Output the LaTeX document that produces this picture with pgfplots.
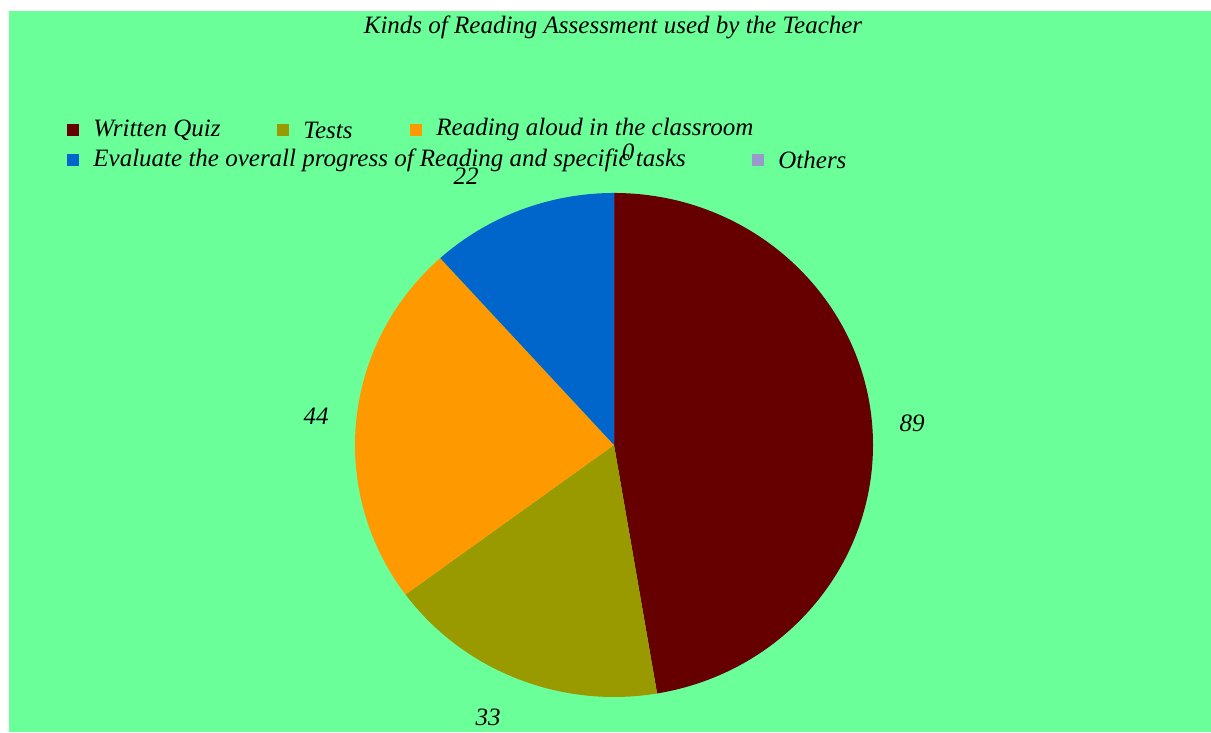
\documentclass[border=0pt]{standalone}
\usepackage{pgfplots}
\pgfplotsset{compat=1.18}
\usepackage{fontspec}
\setmainfont{Liberation Serif}
\definecolor{bg}{HTML}{6BFF9A}
\definecolor{cA}{HTML}{660000}
\definecolor{cB}{HTML}{999900}
\definecolor{cC}{HTML}{FF9900}
\definecolor{cD}{HTML}{0066CC}
\definecolor{cE}{HTML}{9999CC}
\newcommand\lf{\fontsize{12.5}{15}\selectfont\itshape}
\begin{document}
\begin{tikzpicture}
\begin{axis}[scale only axis, width=605.5pt, height=366pt,
  xmin=0, xmax=1211, ymin=0, ymax=732, hide axis, clip=false]
\fill[white] (axis cs:0,0) rectangle (axis cs:1211,732);
\fill[bg] (axis cs:9,0) rectangle (axis cs:1211,721);
% title
\node[font=\lf] at (axis cs:613,705) {Kinds of Reading Assessment used by the Teacher};
% pie: value / colour (total 188)
\xdef\cum{0}
\foreach \v/\c in {89/cA, 33/cB, 44/cC, 22/cD, 0/cE}{
  \pgfmathsetmacro{\sa}{90-\cum/188*360}
  \pgfmathsetmacro{\ea}{90-(\cum+\v)/188*360}
  \edef\temp{\noexpand\fill[\c] (axis cs:614,287) -- ++(\sa:129.5pt and 126pt) arc[start angle=\sa, end angle=\ea, x radius=129.5pt, y radius=126pt] -- cycle;}
  \temp
  \pgfmathsetmacro{\newcum}{\cum+\v}
  \xdef\cum{\newcum}
}
\foreach \v/\lx/\ly in {89/912/423, 33/488/717, 44/316/416, 22/466/176, 0/628/152}{
  \pgfmathtruncatemacro{\yy}{732-\ly}
  \edef\temp{\noexpand\node[font=\noexpand\lf] at (axis cs:\lx,\yy) {\v};}
  \temp
}
% legend
\foreach \c/\sx/\ty/\t in {cA/67/602/{Written Quiz}, cB/277/602/{Tests}, cC/410/602/{Reading aloud in the classroom}, cD/67/572/{Evaluate the overall progress of Reading and specific tasks}, cE/752/572/{Others}}{
  \pgfmathtruncatemacro{\xa}{\sx+12}
  \pgfmathtruncatemacro{\ya}{\ty-6}
  \pgfmathtruncatemacro{\yb}{\ty+6}
  \pgfmathtruncatemacro{\tx}{\sx+24}
  \edef\temp{\noexpand\fill[\c] (axis cs:\sx,\ya) rectangle (axis cs:\xa,\yb);
    \noexpand\node[font=\noexpand\lf, anchor=west, inner sep=1pt] at (axis cs:\tx,\ty) {\unexpanded\expandafter{\t}};}
  \temp
}
\end{axis}
\end{tikzpicture}
\end{document}
